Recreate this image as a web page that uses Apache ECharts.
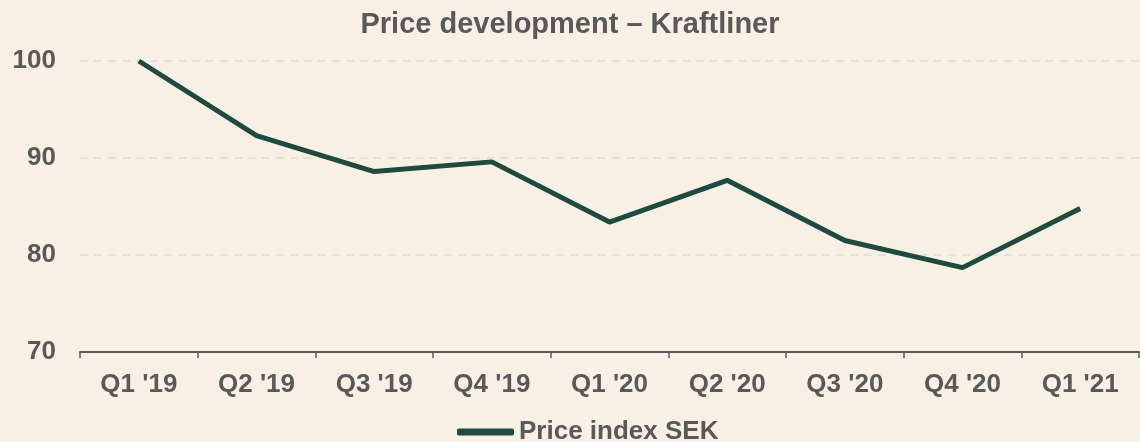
<!DOCTYPE html>
<html>
<head>
<meta charset="utf-8">
<script src="https://cdn.jsdelivr.net/npm/echarts@6/dist/echarts.min.js"></script>
<style>
  html, body { margin: 0; padding: 0; background: #f8f0e4; }
  #chart { width: 1140px; height: 442px; }
</style>
</head>
<body>
<div id="chart"></div>
<script>
// quarters on the x axis
const quarters = ["Q1 '19", "Q2 '19", "Q3 '19", "Q4 '19", "Q1 '20", "Q2 '20", "Q3 '20", "Q4 '20", "Q1 '21"];
// price index, Q1 '19 = 100
const priceIndex = [100, 92.3, 88.6, 89.6, 83.4, 87.7, 81.5, 78.7, 84.8];

const grey = '#595959';
const myChart = echarts.init(document.getElementById('chart'));

myChart.setOption({
  backgroundColor: '#f8f0e4',
  textStyle: { fontFamily: 'Liberation Sans, Arial, sans-serif' },
  title: {
    text: 'Price development \u2013 Kraftliner',
    left: 'center',
    top: 10,
    padding: 0,
    textStyle: { color: grey, fontSize: 29, fontWeight: 'bold' }
  },
  legend: {
    bottom: -3,
    left: 457,
    padding: 0,
    icon: 'roundRect',
    itemWidth: 57,
    itemHeight: 7,
    textStyle: { color: grey, fontSize: 26, fontWeight: 'bold' },
    data: ['Price index SEK']
  },
  grid: { left: 80, right: 1, top: 61, bottom: 90, containLabel: false },
  xAxis: {
    type: 'category',
    data: quarters,
    boundaryGap: true,
    axisLine: { lineStyle: { color: grey, width: 2 } },
    axisTick: { show: true, length: 6, lineStyle: { color: grey, width: 1.5 } },
    axisLabel: { color: grey, fontSize: 26, fontWeight: 'bold', margin: 20 }
  },
  yAxis: {
    type: 'value',
    min: 70,
    max: 100,
    interval: 10,
    axisLine: { show: false },
    axisTick: { show: false },
    axisLabel: { color: grey, fontSize: 26, fontWeight: 'bold', margin: 24 },
    splitLine: { show: true, lineStyle: { color: '#dcdcdc', type: [8, 6], width: 1.5 } }
  },
  series: [{
    name: 'Price index SEK',
    type: 'line',
    data: priceIndex,
    symbol: 'none',
    color: '#1e4a3f',
    lineStyle: { color: '#1e4a3f', width: 5 }
  }]
});
</script>
</body>
</html>
